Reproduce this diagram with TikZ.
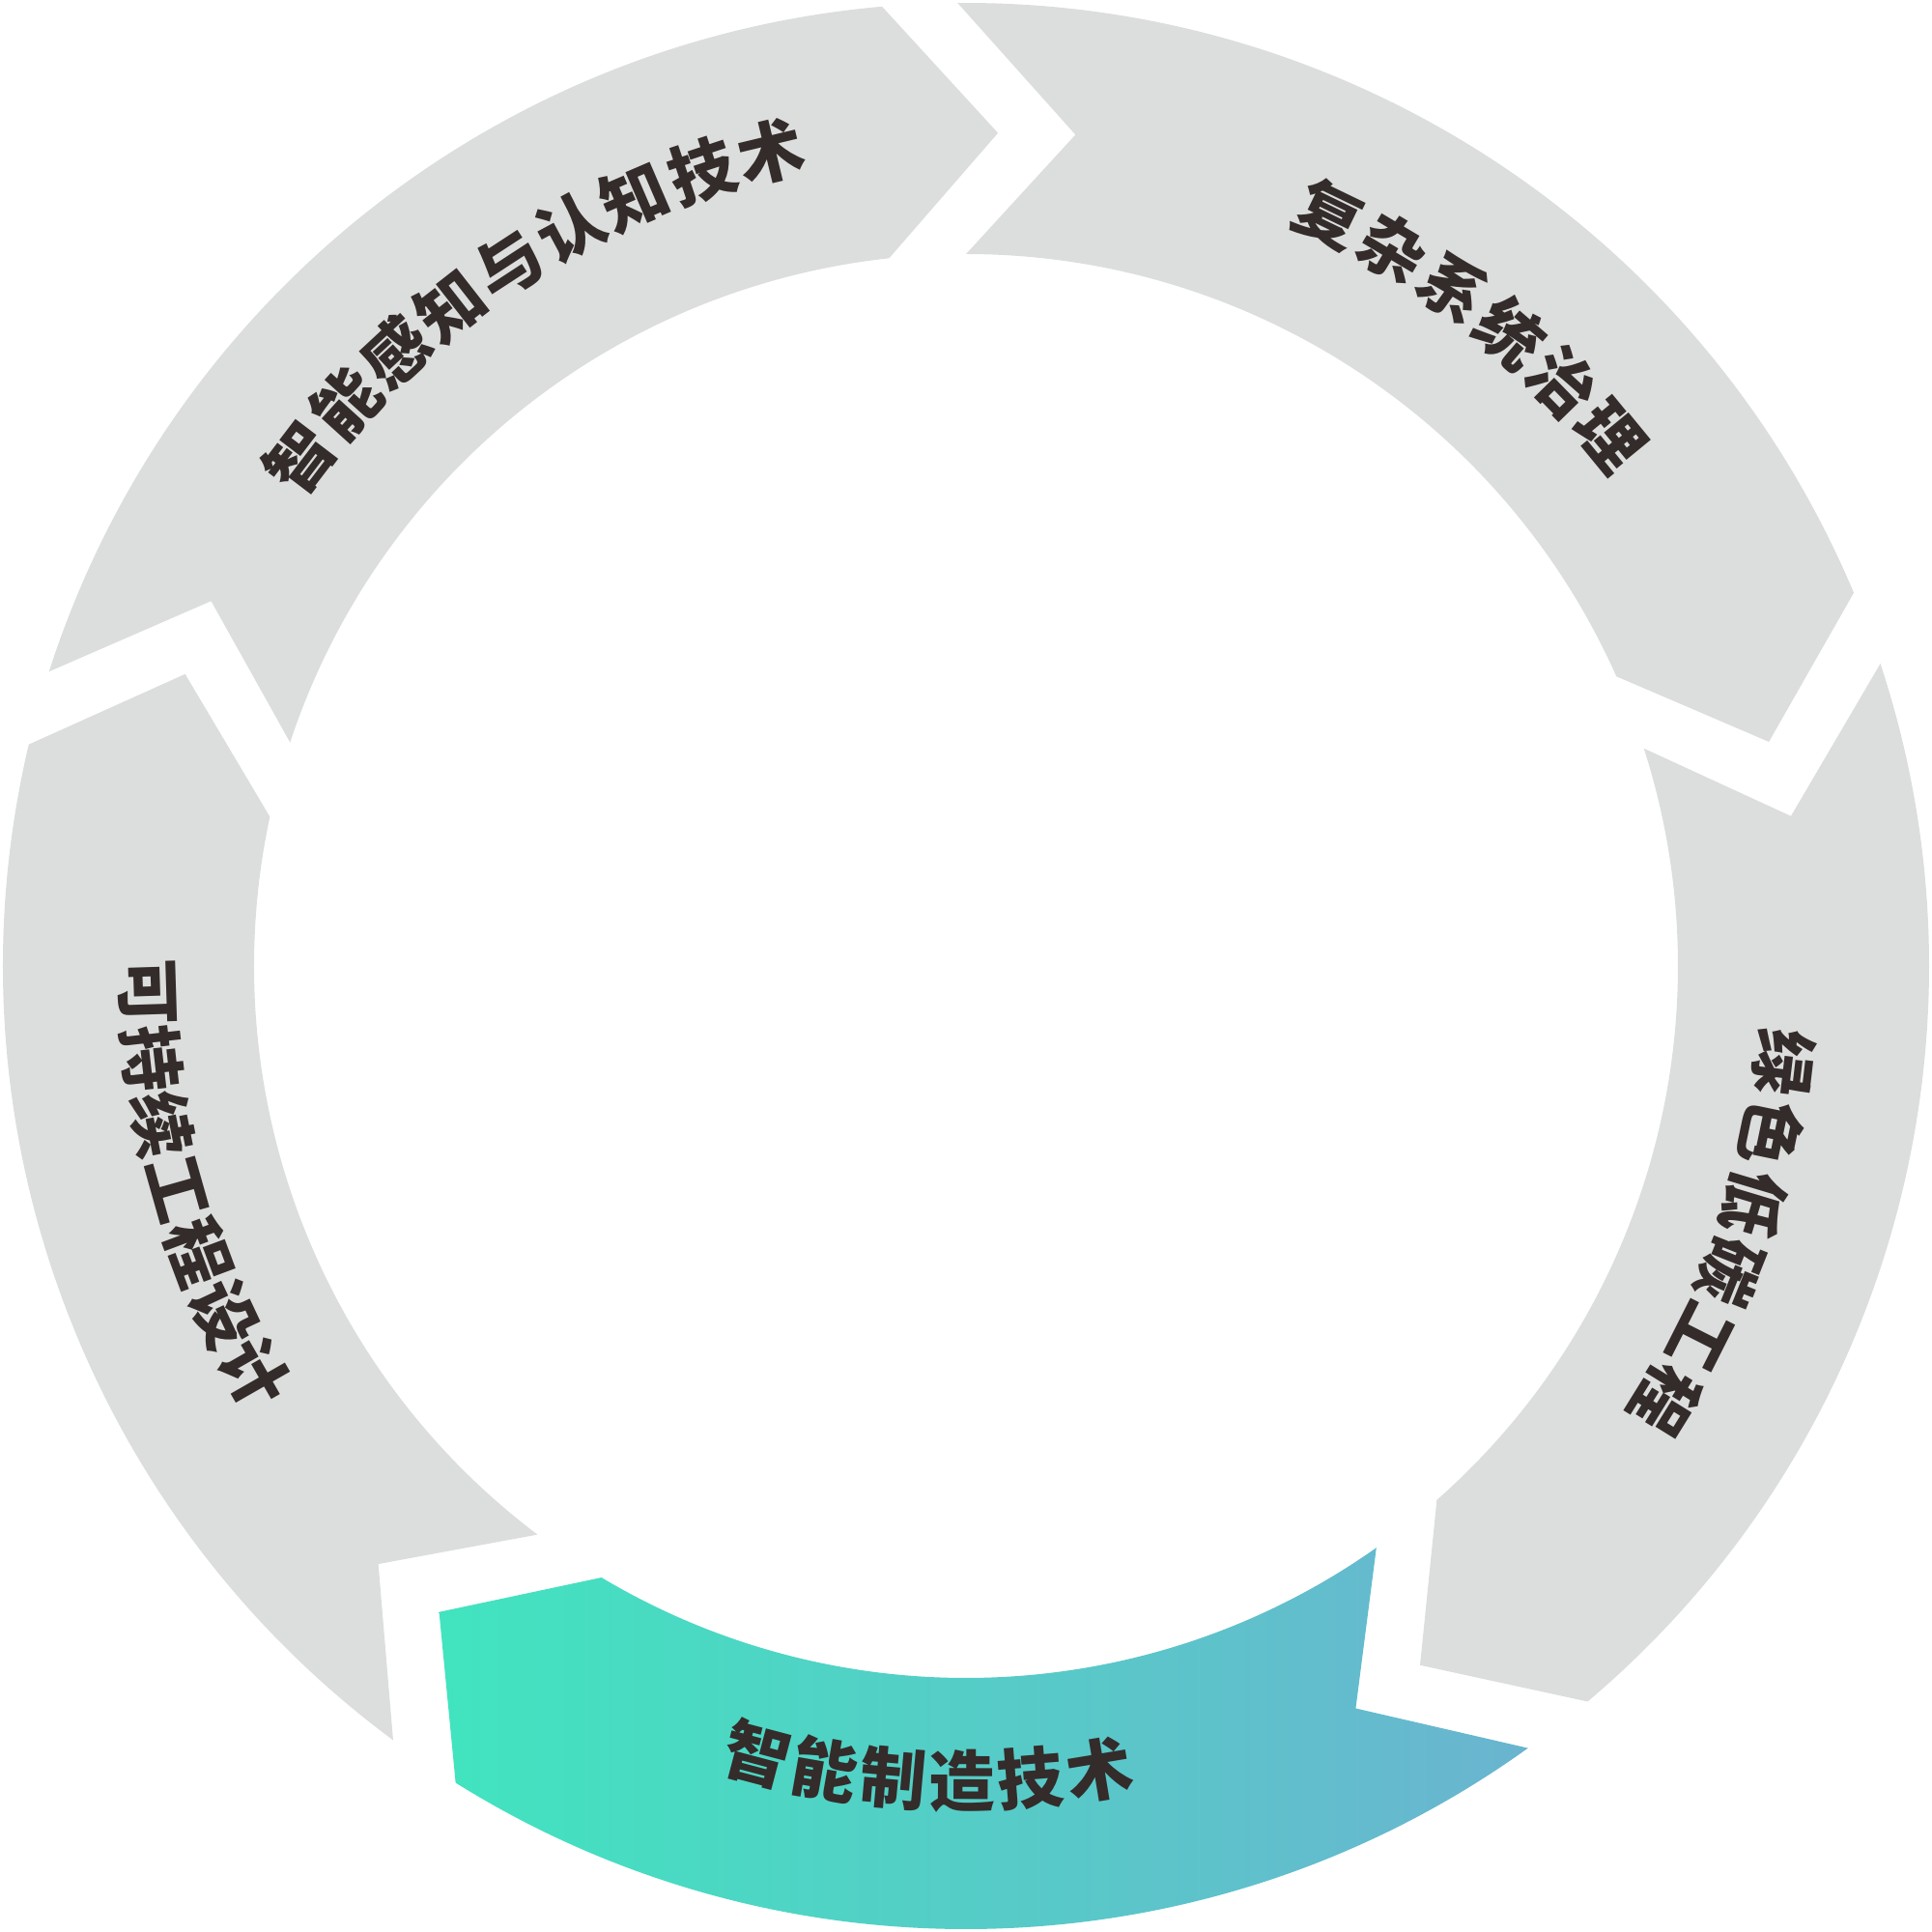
\documentclass[tikz,border=0pt]{standalone}
\usepackage{fontspec}
\newfontfamily\cjk{Noto Sans CJK SC}
\definecolor{segGrey}{HTML}{DCDEDD}
\definecolor{gradL}{HTML}{41E4BF}
\definecolor{gradR}{HTML}{6AB4D0}
\definecolor{txtDark}{HTML}{332C2A}
\newcommand\ringseg[3]{%
  \path[#3] (#1+0.5:99.7mm) arc[start angle=#1+0.5, end angle=#2+5, radius=99.7mm]
    -- (#2-2.2:86.3mm) -- (#2+6.2:73.7mm)
    arc[start angle=#2+6.2, end angle=#1, radius=73.7mm]
    -- (#1-7.5:86.8mm) -- cycle;}
% #1 name prefix, #2 start angle, #3 step, #4 radius, #5 rotation offset, #6 list
\newcommand\arctext[6]{%
  \foreach \ch [count=\i from 0] in {#6}{%
    \pgfmathsetmacro\ang{#2+\i*(#3)}%
    \node[lbl, rotate=\ang+#5] (#1\i) at (\ang:#4) {\ch};
  }}
\begin{document}
\begin{tikzpicture}[
  lbl/.style={inner sep=0pt, text=txtDark, font=\cjk\bfseries\fontsize{19.5pt}{21pt}\selectfont},
  greyseg/.style={fill=segGrey},
  gradseg/.style={left color=gradL, right color=gradR}]
\useasboundingbox (-100mm,-100mm) rectangle (100mm,100mm);
% segments (tail angle, head angle)
\ringseg{90}{17.8}{greyseg}
\ringseg{17.8}{-54.8}{greyseg}
\ringseg{-54.8}{-127}{gradseg}
\ringseg{-127}{-198.3}{greyseg}
\ringseg{161.7}{90}{greyseg}
% labels
\arctext{a}{64.2}{-4.96}{86.4mm}{-90}{复,杂,系,统,治,理}
\arctext{b}{-6.7}{-5.02}{85.2mm}{-90}{绿,色,低,碳,工,程}
\arctext{c}{-104.8}{4.84}{84.4mm}{90}{智,能,制,造,技,术}
\arctext{d}{181.8}{4.67}{84.8mm}{90}{可,持,续,工,程,设,计}
\arctext{e}{142.7}{-4.9}{86.7mm}{-90}{智,能,感,知,与,认,知,技,术}
\end{tikzpicture}
\end{document}
